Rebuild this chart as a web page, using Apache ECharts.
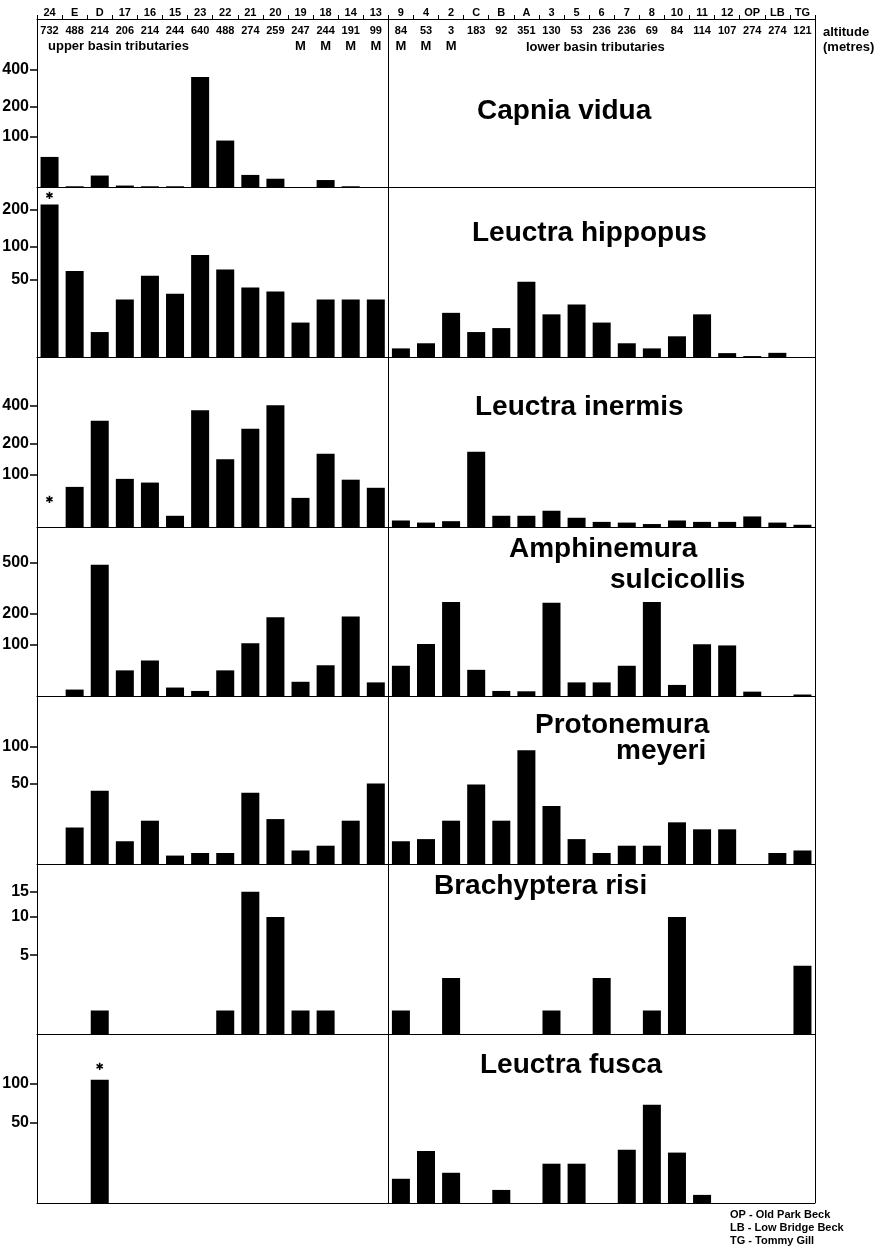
<!DOCTYPE html>
<html>
<head>
<meta charset="utf-8">
<script src="https://cdn.jsdelivr.net/npm/echarts@6/dist/echarts.min.js"></script>
<style>html,body{margin:0;padding:0;background:#fff}#c{width:891px;height:1253px}</style>
</head>
<body>
<div id="c"></div>
<script>
// ---------- data ----------
const sites = ['24','E','D','17','16','15','23','22','21','20','19','18','14','13',
               '9','4','2','C','B','A','3','5','6','7','8','10','11','12','OP','LB','TG'];
const altitudes = ['732','488','214','206','214','244','640','488','274','259','247','244','191','99',
                   '84','53','3','183','92','351','130','53','236','236','69','84','114','107','274','274','121'];
const mainStreamSites = ['19','18','14','13','9','4','2'];

const capniaVidua      = [51,1,17,2,1,1,351,89,18,12,0,10,1,0, 0,0,0,0,0,0,0,0,0,0,0,0,0,0,0,0,0];
const leuctraHippopus  = [219,61,10,31,55,36,85,63,42,38,15,31,31,31, 3,5,21,10,12,48,20,27,15,5,3,8,20,1.3,0.3,1.4,0];
const leuctraInermis   = [0,70,308,89,80,16,368,145,267,400,47,164,87,68, 9,6,8,171,16,16,24,13,7,6,4,9,7,7,15,6,3];
const amphinemuraSulc  = [0,9,481,41,61,12,7,41,103,187,21,51,190,20, 50,101,253,42,7,6.5,249,20,20,50,253,16,100,97,6,0,2];
const protonemuraMey   = [0,16,43,9,20,3,4,4,41,21,5,7,20,50, 9,10,20,49,20,94,30,10,4,7,7,19,15,15,0,4,5];
const brachypteraRisi  = [0,0,1,0,0,0,0,1,15,10,1,1,0,0, 1,0,3,0,0,0,1,0,3,0,1,10,0,0,0,0,4];
const leuctraFusca     = [0,0,107,0,0,0,0,0,0,0,0,0,0,0, 10,26,13,0,5,0,18,18,0,27,70,25,3,0,0,0,0];

const ticksCapnia      = [100,200,400];
const ticksHippopus    = [50,100,200];
const ticksInermis     = [100,200,400];
const ticksAmphinemura = [100,200,500];
const ticksProtonemura = [50,100];
const ticksBrachyptera = [5,10,15];
const ticksFusca       = [50,100];

// ---------- panel configuration (scale curvature c, axis top value vmax) ----------
const panels = [
  {data:capniaVidua,     ticks:ticksCapnia,      c:100, vmax:900,  top:19,   h:168,
   names:[{t:'Capnia vidua',x:477,y:111}]},
  {data:leuctraHippopus, ticks:ticksHippopus,    c:20,  vmax:297,  top:187,  h:170,
   names:[{t:'Leuctra hippopus',x:472,y:233}]},
  {data:leuctraInermis,  ticks:ticksInermis,     c:100, vmax:848,  top:357,  h:170,
   names:[{t:'Leuctra inermis',x:475,y:407}]},
  {data:amphinemuraSulc, ticks:ticksAmphinemura, c:100, vmax:864,  top:527,  h:169,
   names:[{t:'Amphinemura',x:509,y:549},{t:'sulcicollis',x:610,y:580}]},
  {data:protonemuraMey,  ticks:ticksProtonemura, c:24,  vmax:228,  top:696,  h:168,
   names:[{t:'Protonemura',x:535,y:725},{t:'meyeri',x:616,y:751}]},
  {data:brachypteraRisi, ticks:ticksBrachyptera, c:2.8, vmax:22.7, top:864,  h:170,
   names:[{t:'Brachyptera risi',x:434,y:886}]},
  {data:leuctraFusca,    ticks:ticksFusca,       c:27,  vmax:216,  top:1034, h:169,
   names:[{t:'Leuctra fusca',x:480,y:1065}]}
];
const stars = [{panel:1, site:'24', dist:3},{panel:2, site:'24', dist:22},{panel:6, site:'D', dist:7}];

const GL = 37, GW = 778, FRAME_TOP = 19, FRAME_BOTTOM = 1203;
const FONT = '"Liberation Sans", Arial, Helvetica, sans-serif';

const grids = [], xAxes = [], yAxes = [], series = [], graphics = [];

panels.forEach((p, i) => {
  const f = v => Math.log(1 + v / p.c);
  grids.push({left: GL, width: GW, top: p.top, height: p.h, outerBoundsMode: 'none', containLabel: false});
  xAxes.push({
    type:'category', gridIndex:i, data:sites, position:'bottom',
    axisLine:{show:true, lineStyle:{color:'#000', width:1}},
    axisTick:{show:false}, axisLabel:{show:false}, splitLine:{show:false}
  });
  const tv = p.ticks.map(f);
  yAxes.push({
    type:'value', gridIndex:i, min:0, max:f(p.vmax), offset:0,
    axisLine:{show:true, lineStyle:{color:'#000', width:1}},
    axisTick:{show:true, customValues:tv, length:7, lineStyle:{color:'#000', width:1.5}},
    axisLabel:{show:true, customValues:tv, margin:8, color:'#000', fontFamily:FONT,
      fontWeight:'bold', fontSize:16,
      formatter: val => {
        const v = p.c * (Math.exp(val) - 1);
        let best = p.ticks[0];
        p.ticks.forEach(t => { if (Math.abs(t - v) < Math.abs(best - v)) best = t; });
        return String(best);
      }},
    splitLine:{show:false}
  });
  const dataItems = p.data.map((v, k) => {
    const s = stars.find(st => st.panel === i && st.site === sites[k]);
    if (!s) return f(v);
    return {value:f(v), label:{show:true, position:'top', distance:s.dist, formatter:'\u2731',
            color:'#000', fontSize:10, fontFamily:'"DejaVu Sans", sans-serif'}};
  });
  series.push({
    type:'bar', xAxisIndex:i, yAxisIndex:i, data:dataItems, barWidth:18,
    itemStyle:{color:'#000'}, silent:true, animation:false
  });
  p.names.forEach(n => graphics.push({
    type:'text', x:n.x, y:n.y, silent:true,
    style:{text:n.t, fill:'#000', font:'bold 28px ' + FONT, align:'left', verticalAlign:'middle'}
  }));
});

// header axes on the first panel
xAxes.push({
  type:'category', gridIndex:0, data:sites, position:'top',
  axisLine:{show:true, lineStyle:{color:'#000', width:1}},
  axisTick:{show:true, length:4, lineStyle:{color:'#000'}},
  axisLabel:{show:true, interval:0, margin:1, color:'#000', fontFamily:FONT, fontWeight:'bold', fontSize:11}
});
xAxes.push({
  type:'category', gridIndex:0, data:altitudes, position:'top',
  axisLine:{show:false}, axisTick:{show:false},
  axisLabel:{show:true, inside:true, interval:0, margin:6, color:'#000', fontFamily:FONT, fontWeight:'bold', fontSize:11}
});
xAxes.push({
  type:'category', gridIndex:0, data:sites, position:'top',
  axisLine:{show:false}, axisTick:{show:false},
  axisLabel:{show:true, inside:true, interval:0, margin:21, color:'#000', fontFamily:FONT, fontWeight:'bold', fontSize:13,
    formatter: s => mainStreamSites.indexOf(s) >= 0 ? 'M' : ''}
});

const txt = (t, x, y, size) => ({type:'text', x, y, silent:true,
  style:{text:t, fill:'#000', font:'bold ' + size + 'px ' + FONT, align:'left', verticalAlign:'middle'}});
graphics.push(txt('upper basin tributaries', 48, 46, 13));
graphics.push(txt('lower basin tributaries', 526, 47, 13));
graphics.push(txt('altitude', 823, 32, 13));
graphics.push(txt('(metres)', 823, 47, 13));
graphics.push(txt('OP - Old Park Beck', 730, 1215, 11));
graphics.push(txt('LB - Low Bridge Beck', 730, 1228, 11));
graphics.push(txt('TG - Tommy Gill', 730, 1241, 11));

// frame lines: divider between upper and lower basin, and right border
const colW = GW / sites.length;
const divX = Math.round(GL + 14 * colW) + 0.5;
const rightX = GL + GW + 0.5;
[divX, rightX].forEach(x => graphics.push({
  type:'line', silent:true, shape:{x1:x, y1:FRAME_TOP, x2:x, y2:FRAME_BOTTOM},
  style:{stroke:'#000', lineWidth:1}
}));

const chart = echarts.init(document.getElementById('c'), null, {renderer:'canvas'});
chart.setOption({
  backgroundColor:'#fff', animation:false,
  grid:grids, xAxis:xAxes, yAxis:yAxes, series:series, graphic:graphics
});
</script>
</body>
</html>
